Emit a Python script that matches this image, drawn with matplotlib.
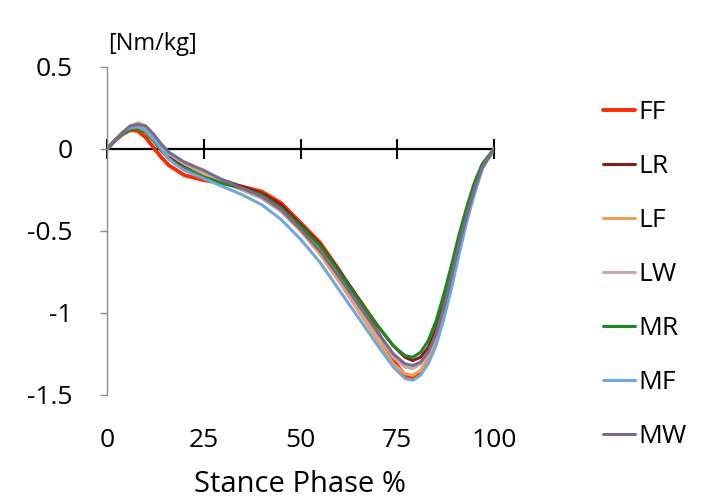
import matplotlib
matplotlib.use("Agg")
import matplotlib.pyplot as plt

plt.rcParams['font.family'] = ['Open Sans', 'DejaVu Sans']

stance = [0, 2, 4, 6, 8, 10, 12, 14, 16, 18, 20, 25, 30, 35, 40, 45, 50, 55, 60,
          65, 70, 74, 77, 79, 81, 83, 85, 87, 89, 91, 93, 95, 97, 100]

ff = [0, 0.05, 0.09, 0.115, 0.11, 0.07, 0.01, -0.05, -0.10, -0.13, -0.16, -0.19, -0.21, -0.23,
      -0.26, -0.33, -0.45, -0.57, -0.74, -0.93, -1.12, -1.29, -1.38, -1.40, -1.36, -1.28, -1.16,
      -0.99, -0.80, -0.59, -0.40, -0.24, -0.11, 0]
lr = [0, 0.05, 0.10, 0.13, 0.135, 0.11, 0.06, 0.0, -0.04, -0.08, -0.10, -0.15, -0.19, -0.23,
      -0.27, -0.34, -0.46, -0.58, -0.74, -0.91, -1.08, -1.20, -1.27, -1.29, -1.27, -1.21, -1.10,
      -0.95, -0.77, -0.57, -0.39, -0.23, -0.10, 0]
lf = [0, 0.05, 0.10, 0.14, 0.16, 0.14, 0.09, 0.03, -0.02, -0.06, -0.09, -0.15, -0.20, -0.25,
      -0.30, -0.38, -0.50, -0.64, -0.81, -0.99, -1.17, -1.31, -1.37, -1.38, -1.35, -1.28, -1.17,
      -1.00, -0.81, -0.61, -0.41, -0.25, -0.11, 0]
lw = [0, 0.05, 0.10, 0.13, 0.145, 0.13, 0.08, 0.02, -0.03, -0.06, -0.09, -0.14, -0.20, -0.25,
      -0.30, -0.38, -0.49, -0.62, -0.79, -0.97, -1.14, -1.27, -1.33, -1.34, -1.31, -1.25, -1.14,
      -0.98, -0.79, -0.59, -0.40, -0.24, -0.11, 0]
mr = [0, 0.05, 0.09, 0.12, 0.125, 0.10, 0.05, -0.01, -0.06, -0.09, -0.12, -0.17, -0.21, -0.24,
      -0.28, -0.36, -0.47, -0.59, -0.75, -0.92, -1.08, -1.20, -1.26, -1.27, -1.24, -1.17, -1.05,
      -0.89, -0.71, -0.52, -0.35, -0.20, -0.09, 0]
mf = [0, 0.05, 0.10, 0.13, 0.135, 0.11, 0.06, 0.0, -0.06, -0.10, -0.13, -0.18, -0.23, -0.28,
      -0.34, -0.43, -0.55, -0.69, -0.86, -1.03, -1.20, -1.33, -1.40, -1.41, -1.38, -1.31, -1.20,
      -1.04, -0.85, -0.64, -0.44, -0.27, -0.12, 0]
mw = [0, 0.05, 0.10, 0.14, 0.15, 0.14, 0.09, 0.03, -0.02, -0.05, -0.08, -0.13, -0.19, -0.24,
      -0.29, -0.37, -0.49, -0.62, -0.78, -0.95, -1.12, -1.25, -1.31, -1.32, -1.30, -1.24, -1.13,
      -0.97, -0.78, -0.58, -0.40, -0.24, -0.11, 0]

series_names = ["FF", "LR", "LF", "LW", "MR", "MF", "MW"]
series_values = [ff, lr, lf, lw, mr, mf, mw]
series_colors = ["#ff2a00", "#8b1a1a", "#f0a050", "#c8a8a8", "#1a8a1a", "#6fa8dc", "#7a6a90"]
series_widths = [2.8, 2.2, 2.2, 2.2, 2.2, 2.2, 2.2]

x_ticks = [0, 25, 50, 75, 100]
y_ticks = [0.5, 0, -0.5, -1, -1.5]
y_tick_labels = ["0.5", "0", "-0.5", "-1", "-1.5"]

fig = plt.figure(figsize=(7.02, 5.04), dpi=100)
ax = fig.add_axes([107 / 702, 1 - 395 / 504, (494 - 107) / 702, (395 - 67) / 504])

for name, vals, col, lwid in zip(series_names, series_values, series_colors, series_widths):
    ax.plot(stance, vals, color=col, lw=lwid, label=name, solid_capstyle='round')

ax.set_xlim(0, 100)
ax.set_ylim(-1.5, 0.5)

for s in ['top', 'right']:
    ax.spines[s].set_visible(False)
ax.spines['left'].set_color('#8c8c8c')
ax.spines['left'].set_linewidth(1.0)
ax.spines['bottom'].set_position(('data', 0))
ax.spines['bottom'].set_color('black')
ax.spines['bottom'].set_linewidth(1.6)
ax.spines['bottom'].set_zorder(1)

ax.set_yticks(y_ticks)
ax.set_yticklabels(y_tick_labels)
ax.tick_params(axis='y', direction='out', length=5, width=1, color='#8c8c8c',
               labelsize=19, pad=20)

ax.set_xticks(x_ticks)
ax.tick_params(axis='x', direction='inout', length=14, width=1.5, color='black',
               labelbottom=False)

sec = ax.secondary_xaxis('bottom')
sec.spines['bottom'].set_visible(False)
sec.set_xticks(x_ticks)
sec.set_xticklabels([str(v) for v in x_ticks])
sec.tick_params(axis='x', length=0, labelsize=19, pad=24)
sec.set_xlabel("Stance Phase %", fontsize=21, labelpad=12)

fig.text(152 / 702, 1 - 44 / 504, "[Nm/kg]", fontsize=17, ha='center', va='center')

fig.legend(loc='upper left', bbox_to_anchor=(603 / 702, 1 - 100 / 504), frameon=False,
           fontsize=19, handlelength=1.2, handletextpad=0.15, labelspacing=1.1,
           borderpad=0, borderaxespad=0)

fig.savefig("out.png", dpi=100)
